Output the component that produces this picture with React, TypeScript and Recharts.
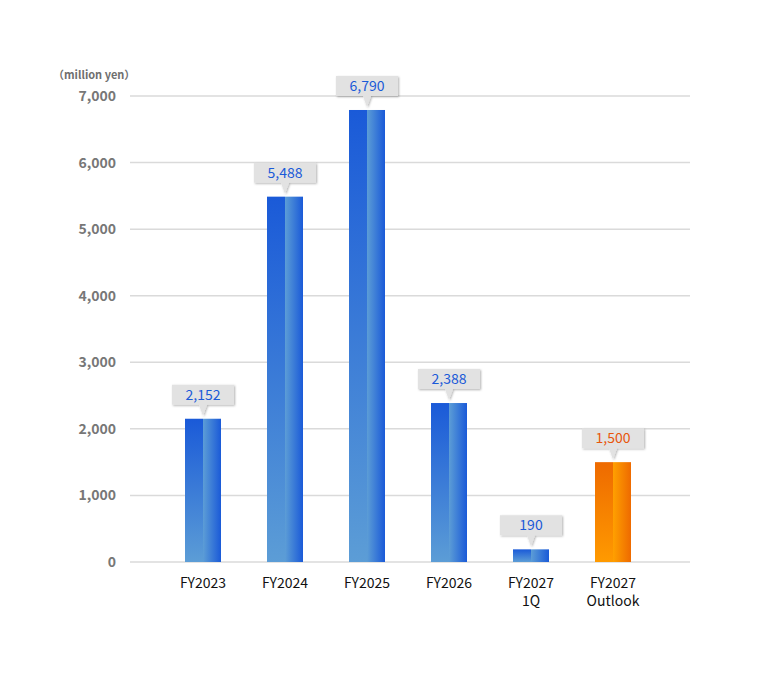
import { Bar, BarChart, CartesianGrid, LabelList, XAxis, YAxis } from "recharts"

const categories = ["FY2023", "FY2024", "FY2025", "FY2026", "FY2027\n1Q", "FY2027\nOutlook"]
const values = [2152, 5488, 6790, 2388, 190, 1500]
const kinds = ["actual", "actual", "actual", "actual", "actual", "outlook"]
const yTicks = [0, 1000, 2000, 3000, 4000, 5000, 6000, 7000]

const rows = categories.map((name, i) => ({ name, value: values[i], kind: kinds[i] }))

const FONT = "'Noto Sans CJK JP', 'Noto Sans', sans-serif"
const GRID = "#dadada"
const BLUE_TEXT = "#1a5ad8"
const ORANGE_TEXT = "#e8560c"

const fmt = (v: number) => v.toLocaleString("en-US")

function TwoToneBar(props: any) {
  const { x, y, width, height, payload } = props
  if (!height || height <= 0) return null
  const tone = payload?.kind === "outlook" ? "orange" : "blue"
  const half = width / 2
  return (
    <g>
      <rect x={x} y={y} width={half} height={height} fill={`url(#${tone}-v)`} />
      <rect x={x + half} y={y} width={width - half} height={height} fill={`url(#${tone}-h)`} />
    </g>
  )
}

function Callout(props: any) {
  const { x, y, width, value, index } = props
  const cx = x + width / 2
  const isOutlook = kinds[index] === "outlook"
  const boxW = 62
  const top = y - 34
  const bottom = y - 14
  return (
    <g>
      <g filter="url(#callout-shadow)">
        <path
          d={`M${cx - boxW / 2},${top} h${boxW} v${bottom - top} h${-(boxW / 2 - 4)} l-4,11 l-4,-11 h${-(boxW / 2 - 4)} z`}
          fill="#e2e2e2"
        />
      </g>
      <text
        x={cx}
        y={top + 15}
        textAnchor="middle"
        fontFamily={FONT}
        fontSize={14}
        fill={isOutlook ? ORANGE_TEXT : BLUE_TEXT}
      >
        {fmt(value)}
      </text>
    </g>
  )
}

function CategoryTick(props: any) {
  const { x, y, payload } = props
  const lines = String(payload.value).split("\n")
  return (
    <g>
      {lines.map((line, i) => (
        <text
          key={i}
          x={x}
          y={y + 18 + i * 18}
          textAnchor="middle"
          fontFamily={FONT}
          fontSize={14}
          fill="#111111"
        >
          {line}
        </text>
      ))}
    </g>
  )
}

export default function App() {
  return (
    <div style={{ position: "relative", width: 760, height: 671 }}>
      <div
        style={{
          position: "absolute",
          left: 45,
          top: 58,
          fontFamily: FONT,
          fontSize: 11,
          fontWeight: 700,
          color: "#6f6f6f",
        }}
      >
        （million yen）
      </div>
      <BarChart width={760} height={671} data={rows} margin={{ top: 88, right: 78, bottom: 87, left: 0 }}>
        <defs>
          <linearGradient id="blue-v" x1="0" y1="0" x2="0" y2="1">
            <stop offset="0%" stopColor="#1a5ad8" />
            <stop offset="100%" stopColor="#5c9dd6" />
          </linearGradient>
          <linearGradient id="blue-h" x1="0" y1="0" x2="1" y2="0">
            <stop offset="0%" stopColor="#5c9dd6" />
            <stop offset="100%" stopColor="#1a5ad8" />
          </linearGradient>
          <linearGradient id="orange-v" x1="0" y1="0" x2="0" y2="1">
            <stop offset="0%" stopColor="#ee6a00" />
            <stop offset="100%" stopColor="#ff9a00" />
          </linearGradient>
          <linearGradient id="orange-h" x1="0" y1="0" x2="1" y2="0">
            <stop offset="0%" stopColor="#ffa000" />
            <stop offset="100%" stopColor="#ee6a00" />
          </linearGradient>
          <filter id="callout-shadow" x="-20%" y="-20%" width="140%" height="160%">
            <feDropShadow dx="1" dy="1" stdDeviation="0.8" floodColor="#000000" floodOpacity="0.3" />
          </filter>
        </defs>
        <CartesianGrid vertical={false} stroke={GRID} strokeWidth={1.5} />
        <XAxis
          dataKey="name"
          height={30}
          axisLine={false}
          tickLine={false}
          interval={0}
          padding={{ left: 32, right: 36 }}
          tick={<CategoryTick />}
        />
        <YAxis
          width={122}
          domain={[0, 7000]}
          ticks={yTicks}
          axisLine={false}
          tickLine={false}
          tickMargin={8}
          tickFormatter={fmt}
          tick={{ fontFamily: FONT, fontSize: 14, fontWeight: 700, fill: "#777777" }}
        />
        <Bar dataKey="value" barSize={36} shape={<TwoToneBar />} isAnimationActive={false}>
          <LabelList dataKey="value" content={<Callout />} />
        </Bar>
      </BarChart>
    </div>
  )
}
